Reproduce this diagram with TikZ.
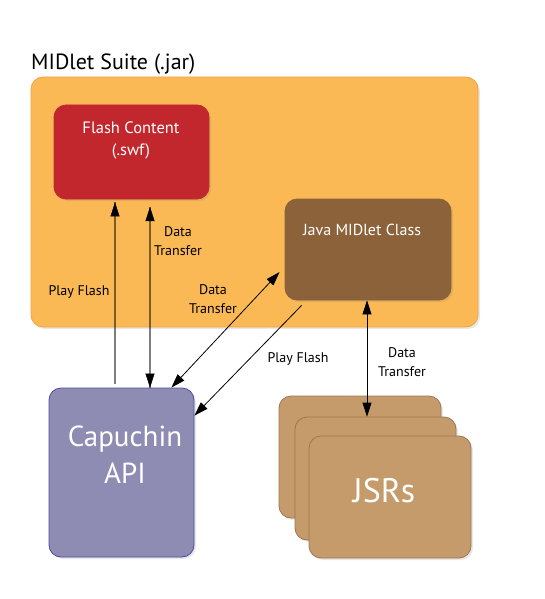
\documentclass[tikz,border=0pt]{standalone}
\usepackage{fontspec}
\setmainfont{PT Sans}
\usetikzlibrary{arrows.meta,shadows}

\definecolor{suiteorange}{HTML}{FAB955}
\definecolor{suiteedge}{HTML}{F5A443}
\definecolor{flashred}{HTML}{C1272D}
\definecolor{javabrown}{HTML}{8B6239}
\definecolor{apiviolet}{HTML}{8E8CB3}
\definecolor{apiedge}{HTML}{4D4CA2}
\definecolor{jsrtan}{HTML}{C59B6C}
\definecolor{jsredge}{HTML}{9E7550}

\tikzset{
  box/.style={rounded corners=12pt, inner sep=0pt, line width=0.8pt,
    drop shadow={opacity=0.18, shadow xshift=2pt, shadow yshift=-2pt}},
  boxtext/.style={text=white, inner sep=0pt, align=center},
  flowline/.style={preaction={draw=black, draw opacity=0.5, line width=1.9pt, arrows=-},
    tips=true},
  thinline/.style={draw=black, line width=0.8pt},
  label/.style={inner sep=0pt, align=center, font=\fontsize{14}{19}\selectfont}
}

\begin{document}
\begin{tikzpicture}[x=1pt, y=-1pt, >={Triangle[length=14pt, width=9pt]}]
			\useasboundingbox (0,0) rectangle (544,599);

			% MIDlet suite
			\node[box, fill=suiteorange, draw=suiteedge, minimum width=447, minimum height=250] (suite) at (254.5,202) {};
			\node[anchor=base west, inner sep=0pt, font=\fontsize{22}{28}\selectfont] (suitetitle) at (31,70) {MIDlet Suite (.jar)};

			% Boxes inside the suite (base = last text line)
			\node[box, fill=flashred, draw=flashred, minimum width=155, minimum height=94] (flash) at (131.5,152) {};
			\node[boxtext, anchor=base, font=\fontsize{16.5}{22}\selectfont] (flashtext) at (131,155) {Flash Content\\(.swf)};
			\node[box, fill=javabrown, draw=javabrown, minimum width=166, minimum height=101] (java) at (368,249.5) {};
			\node[boxtext, anchor=base, font=\fontsize{16}{20}\selectfont] (javatext) at (362,235) {Java MIDlet Class};

			% Capuchin API
			\node[box, fill=apiviolet, draw=apiedge, minimum width=145, minimum height=169] (capi) at (121.5,472.5) {};
			\node[boxtext, anchor=base, font=\fontsize{29}{37}\selectfont] (capitext) at (125,483) {Capuchin\\API};

			% JSRs (stacked)
			\node[box, fill=jsrtan, draw=jsredge, minimum width=162, minimum height=122] (jsrback) at (360,457) {};
			\node[box, fill=jsrtan, draw=jsredge, minimum width=161, minimum height=123] (jsrmid) at (375.5,478.5) {};
			\node[box, fill=jsrtan, draw=jsredge, minimum width=162, minimum height=122] (jsrs) at (390,497) {};
			\node[boxtext, anchor=base, font=\fontsize{34}{40}\selectfont] (jsrtext) at (384,502) {JSRs};

			% Play Flash / Data Transfer to the Flash content
			\coordinate (pfstart) at (115,384);
			\coordinate (dtflash) at (150,207);
			\path[flowline, ->] (pfstart) -- ([yshift=-3pt]flash.south -| pfstart);
			\path[flowline, <->] (dtflash) -- (capi.north -| dtflash);
			\node[label, anchor=base] (pflabel) at (79,295) {Play Flash};
			\node[label, anchor=base] (dtflabel) at (178,255) {Data\\Transfer};

			% Java class <-> Capuchin
			\draw[thinline, <->] ([shift={(-5pt,-22.5pt)}]java.west) -- ([xshift=-23pt]capi.north east);
			\draw[thinline, ->] ([shift={(17pt,-5pt)}]java.south west) -- ([yshift=-28pt]capi.north east);
			\node[label, anchor=base] (dtjlabel) at (213,313) {Data\\Transfer};
			\node[label, anchor=base] (pfjlabel) at (298,362) {Play Flash};

			% Java class <-> JSRs
			\draw[thinline, <->] (java.south -| 367,0) -- (jsrmid.north -| 367,0);
			\node[label, anchor=base] (dtjsrlabel) at (402,376) {Data\\Transfer};
\end{tikzpicture}
\end{document}
